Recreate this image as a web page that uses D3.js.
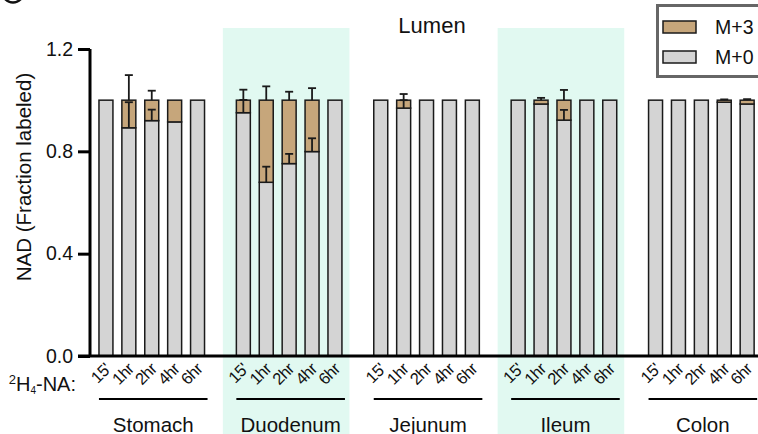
<!DOCTYPE html>
<html>
<head>
<meta charset="utf-8">
<script src="https://cdn.jsdelivr.net/npm/d3@7"></script>
<style>
  body { margin: 0; background: #fff; }
  svg { display: block; font-family: "Liberation Sans", Arial, sans-serif; }
</style>
</head>
<body>
<script>
// tissues and time points
const groups = ["Stomach", "Duodenum", "Jejunum", "Ileum", "Colon"];
const times = ["15'", "1hr", "2hr", "4hr", "6hr"];
const shadedGroups = ["Duodenum", "Ileum"];

// fraction labeled, one row per tissue
const m0 = [
  [1.0, 0.892, 0.920, 0.915, 1.0],
  [0.951, 0.679, 0.752, 0.799, 1.0],
  [1.0, 0.969, 1.0, 1.0, 1.0],
  [1.0, 0.985, 0.922, 1.0, 1.0],
  [1.0, 1.0, 1.0, 0.992, 0.985]
];
const m3 = [
  [0, 0.108, 0.080, 0.085, 0],
  [0.049, 0.321, 0.248, 0.201, 0],
  [0, 0.031, 0, 0, 0],
  [0, 0.015, 0.078, 0, 0],
  [0, 0, 0, 0.008, 0.015]
];
// error bars (SD, drawn upward)
const m0Err = [
  [0, 0.100, 0.043, 0, 0],
  [0.050, 0.061, 0.038, 0.052, 0],
  [0, 0.031, 0, 0, 0],
  [0, 0, 0.040, 0, 0],
  [0, 0, 0, 0, 0]
];
const m3Err = [
  [0, 0.098, 0.037, 0, 0],
  [0.041, 0.054, 0.033, 0.047, 0],
  [0, 0.024, 0, 0, 0],
  [0, 0.009, 0.040, 0, 0],
  [0, 0, 0, 0.003, 0.004]
];
const yTicks = [0, 0.4, 0.8, 1.2];

const width = 758, height = 434;
const colM0 = "#d4d4d4", colM3 = "#c6a67b", shade = "#e1f9f1";

const svg = d3.select("body").append("svg")
  .attr("width", width)
  .attr("height", height);

// slots: 5 bars per tissue plus one empty slot between tissues
const slots = [];
groups.forEach((g, gi) => {
  times.forEach(t => slots.push(g + "|" + t));
  if (gi < groups.length - 1) slots.push("gap" + gi);
});

const x = d3.scaleBand()
  .domain(slots)
  .range([94.5, 758.6])
  .paddingInner(0.39)
  .paddingOuter(0.195);

const y = d3.scaleLinear()
  .domain([0, 1.2])
  .range([356, 49]);

const cx = key => x(key) + x.bandwidth() / 2;

// flat records
const rows = [];
groups.forEach((g, gi) => {
  times.forEach((t, ti) => {
    rows.push({ key: g + "|" + t, g, t, m0: m0[gi][ti], m3: m3[gi][ti], e0: m0Err[gi][ti], e3: m3Err[gi][ti] });
  });
});

// shaded tissue backgrounds
svg.append("g")
  .selectAll("rect")
  .data(shadedGroups)
  .join("rect")
  .attr("x", g => cx(g + "|" + times[0]) - 20.5)
  .attr("y", 28)
  .attr("width", g => cx(g + "|" + times[4]) - cx(g + "|" + times[0]) + 35)
  .attr("height", height - 28)
  .attr("fill", shade);

// panel letter (cut off at top)
svg.append("circle")
  .attr("cx", 13).attr("cy", -8).attr("r", 10.5)
  .attr("fill", "none").attr("stroke", "#111").attr("stroke-width", 2.5);

// bars
const bars = svg.append("g");
bars.selectAll("rect.m0")
  .data(rows)
  .join("rect")
  .attr("class", "m0")
  .attr("x", d => x(d.key))
  .attr("width", x.bandwidth())
  .attr("y", d => y(d.m0))
  .attr("height", d => y(0) - y(d.m0))
  .attr("fill", colM0)
  .attr("stroke", "#1a1a1a")
  .attr("stroke-width", 1.5);

bars.selectAll("rect.m3")
  .data(rows.filter(d => d.m3 > 0))
  .join("rect")
  .attr("class", "m3")
  .attr("x", d => x(d.key))
  .attr("width", x.bandwidth())
  .attr("y", d => y(d.m0 + d.m3))
  .attr("height", d => y(d.m0) - y(d.m0 + d.m3))
  .attr("fill", colM3)
  .attr("stroke", "#1a1a1a")
  .attr("stroke-width", 1.5);

// error bars
const errs = [];
rows.forEach(d => {
  if (d.e0 > 0) errs.push({ key: d.key, base: d.m0, top: d.m0 + d.e0 });
  if (d.e3 > 0) errs.push({ key: d.key, base: d.m0 + d.m3, top: d.m0 + d.m3 + d.e3 });
});
const eg = svg.append("g").attr("stroke", "#1a1a1a").attr("stroke-width", 1.8);
eg.selectAll("line.stem")
  .data(errs)
  .join("line")
  .attr("x1", d => cx(d.key)).attr("x2", d => cx(d.key))
  .attr("y1", d => y(d.base)).attr("y2", d => y(d.top));
eg.selectAll("line.cap")
  .data(errs)
  .join("line")
  .attr("x1", d => cx(d.key) - 4).attr("x2", d => cx(d.key) + 4)
  .attr("y1", d => y(d.top)).attr("y2", d => y(d.top));

// y axis
const yAxis = svg.append("g")
  .attr("transform", "translate(90,0)")
  .call(d3.axisLeft(y).tickValues(yTicks).tickFormat(d3.format(".1f")).tickSize(12).tickPadding(5));
yAxis.select(".domain").attr("stroke", "#000").attr("stroke-width", 3)
  .attr("d", `M0,${y(1.2)}V${y(0)}`);
yAxis.selectAll(".tick line").attr("stroke", "#000").attr("stroke-width", 3);
yAxis.selectAll(".tick text").attr("font-size", 19.5).attr("fill", "#111")
  .attr("font-family", "Liberation Sans, Arial, sans-serif");

// x baseline
svg.append("line")
  .attr("x1", 78).attr("x2", width)
  .attr("y1", y(0)).attr("y2", y(0))
  .attr("stroke", "#000").attr("stroke-width", 3);

// time tick labels
svg.append("g")
  .selectAll("text")
  .data(rows)
  .join("text")
  .attr("transform", d => `translate(${cx(d.key) + 6},370) rotate(-45)`)
  .attr("text-anchor", "end")
  .attr("font-size", 16.5)
  .attr("letter-spacing", -0.5)
  .attr("fill", "#111")
  .text(d => d.t);

// row label
const rl = svg.append("text")
  .attr("x", 76).attr("y", 391)
  .attr("text-anchor", "end")
  .attr("font-size", 20)
  .attr("fill", "#111");
rl.append("tspan").attr("font-size", 13).attr("dy", -7).text("2");
rl.append("tspan").attr("dy", 7).text("H");
rl.append("tspan").attr("font-size", 10).attr("dy", 3).text("4");
rl.append("tspan").attr("dy", -3).text("-NA:");

// tissue brackets and names
const gl = svg.append("g")
  .selectAll("g")
  .data(groups)
  .join("g");
gl.append("line")
  .attr("x1", g => cx(g + "|" + times[0]) - 7)
  .attr("x2", g => cx(g + "|" + times[4]) + 10)
  .attr("y1", 399).attr("y2", 399)
  .attr("stroke", "#000").attr("stroke-width", 2);
gl.append("text")
  .attr("x", g => (cx(g + "|" + times[0]) + cx(g + "|" + times[4])) / 2 + 1.5)
  .attr("y", 432)
  .attr("text-anchor", "middle")
  .attr("font-size", 20.5)
  .attr("fill", "#111")
  .text(g => g);

// y axis title
svg.append("text")
  .attr("transform", "translate(31,177) rotate(-90)")
  .attr("text-anchor", "middle")
  .attr("font-size", 20.5)
  .attr("fill", "#111")
  .text("NAD (Fraction labeled)");

// chart title
svg.append("text")
  .attr("x", 432).attr("y", 32.5)
  .attr("text-anchor", "middle")
  .attr("font-size", 22)
  .attr("fill", "#111")
  .text("Lumen");

// legend
const legendItems = [
  { label: "M+3", color: colM3 },
  { label: "M+0", color: colM0 }
];
const lg = svg.append("g");
lg.append("rect")
  .attr("x", 657.5).attr("y", 5.5)
  .attr("width", 120).attr("height", 71)
  .attr("fill", "#fff")
  .attr("stroke", "#666").attr("stroke-width", 3);
const li = lg.selectAll("g.item")
  .data(legendItems)
  .join("g")
  .attr("class", "item")
  .attr("transform", (d, i) => `translate(0,${21 + i * 30})`);
li.append("rect")
  .attr("x", 663).attr("y", 0)
  .attr("width", 33).attr("height", 12)
  .attr("fill", d => d.color)
  .attr("stroke", "#1a1a1a").attr("stroke-width", 1.5);
li.append("text")
  .attr("x", 715).attr("y", 13)
  .attr("font-size", 19.5)
  .attr("fill", "#111")
  .text(d => d.label);
</script>
</body>
</html>
